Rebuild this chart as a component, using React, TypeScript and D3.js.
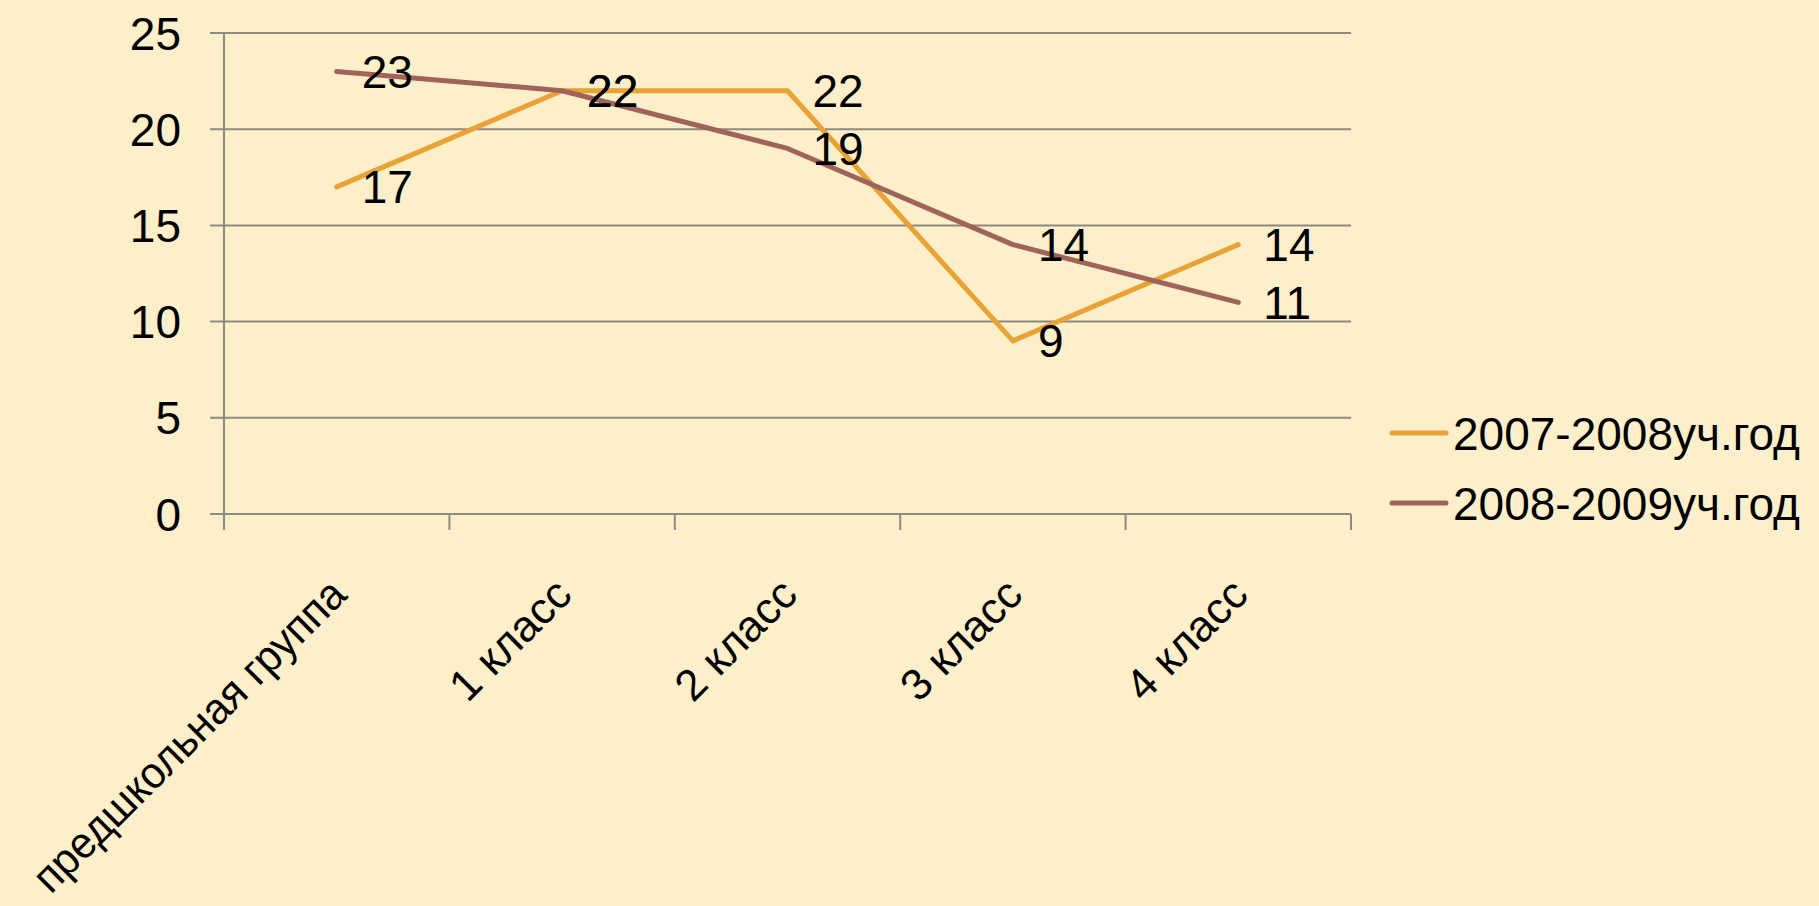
import React, { useLayoutEffect, useRef } from 'react';
import * as d3 from 'd3';

const categories = ['предшкольная группа', '1 класс', '2 класс', '3 класс', '4 класс'];
const seriesNames = ['2007-2008уч.год', '2008-2009уч.год'];
const values2007 = [17, 22, 22, 9, 14];
const values2008 = [23, 22, 19, 14, 11];
const yTicks = [0, 5, 10, 15, 20, 25];
const colors = ['#E8A236', '#A0635A'];

const W = 1819;
const H = 906;
const margin = { top: 33, left: 224, right: 468, bottom: 392 };
const FONT = '"Liberation Sans", Arial, sans-serif';
const LABEL_DY = 83;

export default function App() {
  const labelsRef = useRef<SVGGElement>(null);

  const x = d3.scaleBand()
    .domain(categories)
    .range([margin.left, W - margin.right]);
  const y = d3.scaleLinear()
    .domain([0, 25])
    .range([H - margin.bottom, margin.top]);

  const line = d3.line<number>()
    .x((d, i) => x(categories[i])! + x.bandwidth() / 2)
    .y(d => y(d));

  const series = [values2007, values2008];
  const y0 = y(0);

  // squeeze rotated category labels that would run off the bottom of the page
  useLayoutEffect(() => {
    if (!labelsRef.current) return;
    const maxLen = (H - 11 - (y0 + LABEL_DY)) * Math.SQRT2;
    d3.select(labelsRef.current).selectAll<SVGTextElement, unknown>('text').each(function () {
      if (this.getComputedTextLength() > maxLen) {
        this.setAttribute('textLength', String(maxLen));
        this.setAttribute('lengthAdjust', 'spacingAndGlyphs');
      }
    });
  }, []);

  return (
    <div style={{ position: 'fixed', left: 0, top: 0, width: W, height: H }}>
      <svg width={W} height={H} style={{ display: 'block' }}>
        <rect x={0} y={0} width={W} height={H} fill="#FCEFCA" />

        {/* gridlines + y ticks */}
        {yTicks.map(t => (
          <g key={t}>
            <line x1={margin.left - 14} x2={W - margin.right} y1={y(t)} y2={y(t)}
              stroke="#8C8A82" strokeWidth={2} />
            <text x={181} y={y(t)} dy="0.36em" textAnchor="end"
              fontFamily={FONT} fontSize={46} fill="#000">{t}</text>
          </g>
        ))}

        {/* y axis */}
        <line x1={margin.left} x2={margin.left} y1={margin.top} y2={y0} stroke="#8C8A82" strokeWidth={2} />

        {/* category ticks */}
        {categories.concat(['']).map((c, i) => {
          const xx = margin.left + i * x.bandwidth();
          return <line key={i} x1={xx} x2={xx} y1={y0} y2={y0 + 16} stroke="#8C8A82" strokeWidth={2} />;
        })}

        {/* category labels */}
        <g ref={labelsRef}>
          {categories.map(c => {
            const cx = x(c)! + x.bandwidth() / 2;
            return (
              <text key={c} transform={`translate(${cx + 12},${y0 + LABEL_DY}) rotate(-45)`}
                textAnchor="end" fontFamily={FONT} fontSize={44} fill="#000">{c}</text>
            );
          })}
        </g>

        {/* lines */}
        {series.map((s, k) => (
          <path key={k} d={line(s)!} fill="none" stroke={colors[k]} strokeWidth={5}
            strokeLinejoin="round" strokeLinecap="round" />
        ))}

        {/* data labels */}
        {series.map((s, k) => s.map((v, i) => (
          <text key={k + '-' + i} x={x(categories[i])! + x.bandwidth() / 2 + 25} y={y(v)} dy="0.36em"
            fontFamily={FONT} fontSize={46} fill="#000">{v}</text>
        )))}

        {/* legend */}
        {seriesNames.map((n, k) => (
          <g key={n} transform={`translate(0,${433 + k * 70})`}>
            <line x1={1392} x2={1446} y1={0} y2={0} stroke={colors[k]} strokeWidth={5} strokeLinecap="round" />
            <text x={1453} y={0} dy="0.36em" fontFamily={FONT} fontSize={46} fill="#000">{n}</text>
          </g>
        ))}
      </svg>
    </div>
  );
}
